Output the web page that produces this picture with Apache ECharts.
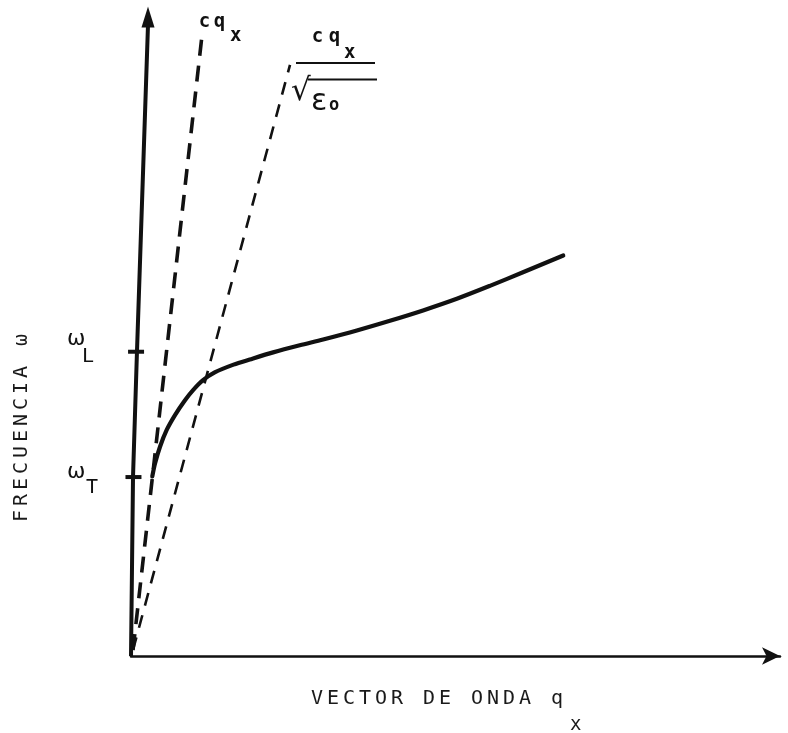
<!DOCTYPE html>
<html><head><meta charset="utf-8">
<script src="https://cdn.jsdelivr.net/npm/echarts@6/dist/echarts.min.js"></script>
<style>html,body{margin:0;padding:0;background:#fff}#c{width:788px;height:733px}</style>
</head><body><div id="c"></div>
<script>
// Polariton dispersion (values in arbitrary units)
const curveQ = [3.28, 3.70, 4.47, 5.50, 6.78, 8.32, 9.60, 11.1, 12.9, 15.8, 18.3, 21.9, 26.0, 29.6, 34.8, 39.9, 45.0, 50.2, 55.3, 60.4, 66.6];
const curveW = [27.8, 29.8, 32.4, 35.0, 37.3, 39.6, 41.2, 42.7, 43.9, 45.1, 45.9, 47.0, 48.1, 49.0, 50.4, 51.9, 53.5, 55.3, 57.3, 59.4, 62.0];
// light line  w = c q
const vacuumLineQ = [0.31, 10.9];
const vacuumLineW = [0.93, 95.7];
// light line  w = c q / sqrt(eps0)
const dielectricLineQ = [0.31, 24.5];
const dielectricLineW = [0.93, 91.5];
// hand-drawn frequency axis
const freqAxisQ = [0, 0.31, 0.92, 2.62];
const freqAxisW = [0, 27.7, 47.1, 97.7];
const freqArrowQ = [2.62];
const freqArrowW = [98.9];
// marked frequencies wT, wL
const tickQ = [0.38, 0.78];
const tickW = [27.7, 47.1];
const tickNames = ['T', 'L'];

const INK = '#111111';
const MONO = '"DejaVu Sans Mono", monospace';
const zip = (a, b) => a.map((v, i) => [v, b[i]]);
const spaced = (s, style) => s.split('').map(ch => '{' + style + '|' + (ch === ' ' ? '\u00a0' : ch) + '}').join('');

const chart = echarts.init(document.getElementById('c'), null, {renderer: 'canvas'});
chart.setOption({
  animation: false,
  backgroundColor: '#ffffff',
  grid: {left: 131, right: 8, top: 10, bottom: 77},
  xAxis: {
    type: 'value', min: 0, max: 100,
    axisLine: {show: true, lineStyle: {color: INK, width: 2.5}, symbol: ['none', 'arrow'], symbolSize: [13, 18]},
    axisTick: {show: false}, axisLabel: {show: false}, splitLine: {show: false}
  },
  yAxis: {
    type: 'value', min: 0, max: 100,
    axisLine: {show: false}, axisTick: {show: false}, axisLabel: {show: false}, splitLine: {show: false}
  },
  series: [
    {type: 'line', data: zip(freqAxisQ, freqAxisW), symbol: 'none', silent: true,
     lineStyle: {color: INK, width: 4}},
    {type: 'scatter', data: zip(freqArrowQ, freqArrowW), symbol: 'triangle', symbolSize: [13, 21],
     itemStyle: {color: INK, opacity: 1}},
    {type: 'scatter', data: zip(tickQ, tickW), symbol: 'rect', symbolSize: [16, 4],
     itemStyle: {color: INK, opacity: 1}},
    {type: 'line', data: zip(vacuumLineQ, vacuumLineW), symbol: 'none',
     lineStyle: {color: INK, width: 3.6, type: [16, 10], cap: 'butt'}},
    {type: 'line', data: zip(dielectricLineQ, dielectricLineW), symbol: 'none',
     lineStyle: {color: INK, width: 2.6, type: [13, 10], cap: 'butt'}},
    {type: 'line', data: zip(curveQ, curveW), symbol: 'none', smooth: 0.3,
     lineStyle: {color: INK, width: 4.2, cap: 'round', join: 'round'}}
  ],
  graphic: [
    // x axis title
    {type: 'text', x: 309, y: 689, style: {
      text: spaced('VECTOR DE ONDA q', 'c'),
      rich: {c: {width: 16, align: 'center', fontFamily: MONO, fontSize: 20, fill: '#1a1a1a'}}
    }},
    {type: 'text', x: 570, y: 716, style: {text: 'x', fontFamily: MONO, fontSize: 19, fill: '#1a1a1a'}},
    // y axis title
    {type: 'text', x: 22, y: 428, rotation: Math.PI / 2, style: {
      text: spaced('FRECUENCIA ω', 'c'), align: 'center', verticalAlign: 'middle',
      rich: {c: {width: 16, align: 'center', fontFamily: MONO, fontSize: 20, fill: '#1a1a1a'}}
    }},
    // wL, wT
    {type: 'text', x: 67, y: 328, style: {text: 'ω', fontFamily: '"DejaVu Sans", sans-serif', fontSize: 22, fill: INK}},
    {type: 'text', x: 82, y: 347, style: {text: tickNames[1], fontFamily: MONO, fontSize: 20, fill: INK}},
    {type: 'text', x: 67, y: 461, style: {text: 'ω', fontFamily: '"DejaVu Sans", sans-serif', fontSize: 22, fill: INK}},
    {type: 'text', x: 86, y: 478, style: {text: tickNames[0], fontFamily: MONO, fontSize: 20, fill: INK}},
    // cq_x
    {type: 'text', x: 197, y: 13, style: {
      text: spaced('cq', 'c'),
      rich: {c: {width: 15, align: 'center', fontFamily: MONO, fontSize: 19, fontWeight: 'bold', fill: INK}}
    }},
    {type: 'text', x: 230, y: 27, style: {text: 'x', fontFamily: MONO, fontSize: 19, fontWeight: 'bold', fill: INK}},
    // cq_x / sqrt(eps0)
    {type: 'text', x: 309, y: 28, style: {
      text: spaced('cq', 'c'),
      rich: {c: {width: 17, align: 'center', fontFamily: MONO, fontSize: 19, fontWeight: 'bold', fill: INK}}
    }},
    {type: 'text', x: 344, y: 44, style: {text: 'x', fontFamily: MONO, fontSize: 19, fontWeight: 'bold', fill: INK}},
    {type: 'line', shape: {x1: 296, y1: 63, x2: 375, y2: 63}, style: {stroke: INK, lineWidth: 2}},
    {type: 'line', shape: {x1: 308, y1: 79.5, x2: 377, y2: 79.5}, style: {stroke: INK, lineWidth: 2}},
    {type: 'text', x: 291, y: 76, style: {text: '√', fontFamily: '"DejaVu Sans", sans-serif', fontSize: 31, fill: INK}},
    {type: 'text', x: 311, y: 87, style: {text: 'ε', fontFamily: '"DejaVu Sans", sans-serif', fontSize: 30, fill: INK}},
    {type: 'text', x: 329, y: 97, style: {text: 'o', fontFamily: MONO, fontSize: 17, fontWeight: 'bold', fill: INK}}
  ]
});
</script>
</body></html>
